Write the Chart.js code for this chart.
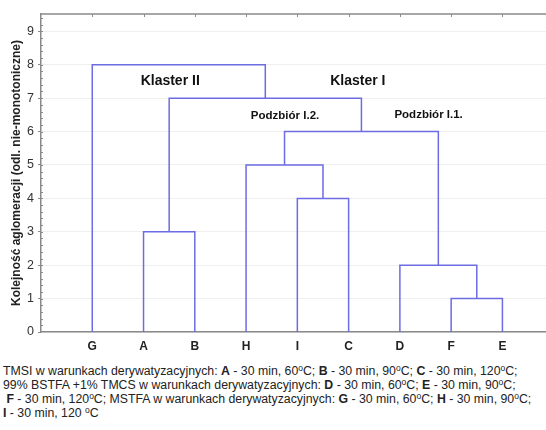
<!DOCTYPE html>
<html>
<head>
    <meta charset="UTF-8">
    <title>Dendrogram</title>
    <script src="https://cdn.jsdelivr.net/npm/chart.js"></script>
    <style>
        body { margin: 0; background: #fff; }
        #wrap { width: 546px; height: 356px; position: relative; }
        #caption {
            margin: 8px 0 0 3px;
            font: 12.3px "Liberation Sans", Arial, sans-serif;
            line-height: 14px;
            color: #222;
            white-space: pre;
        }
        #caption sup { font-size: 8.5px; line-height: 0; vertical-align: 4px; }
    </style>
</head>
<body>
<div id="wrap"><canvas id="chart"></canvas></div>
<div id="caption">TMSI w warunkach derywatyzacyjnych: <b>A</b> - 30 min, 60<sup>o</sup>C; <b>B</b> - 30 min, 90<sup>o</sup>C; <b>C</b> - 30 min, 120<sup>o</sup>C;
99% BSTFA +1% TMCS w warunkach derywatyzacyjnych: <b>D</b> - 30 min, 60<sup>o</sup>C; <b>E</b> - 30 min, 90<sup>o</sup>C;
 <b>F</b> - 30 min, 120<sup>o</sup>C; MSTFA w warunkach derywatyzacyjnych: <b>G</b> - 30 min, 60<sup>o</sup>C; <b>H</b> - 30 min, 90<sup>o</sup>C;
<b>I</b> - 30 min, 120 <sup>o</sup>C</div>

<script>
    // liscie dendrogramu (kolejnosc na osi X)
    var leaves = ['G', 'A', 'B', 'H', 'I', 'C', 'D', 'F', 'E'];

    // polaczenia: wezly 0..8 to liscie, kolejne polaczenia dostaja numery 9, 10, ...
    var mergeLeft = [1, 4, 3, 7, 6, 11, 9, 0];
    var mergeRight = [2, 5, 10, 8, 12, 13, 14, 15];
    var mergeHeight = [3, 4, 5, 1, 2, 6, 7, 8];

    var yTicks = [0, 1, 2, 3, 4, 5, 6, 7, 8, 9];

    // opisy na wykresie
    var notes = [
        { text: 'Klaster II', x: 2.52, y: 7.5, size: 14 },
        { text: 'Klaster I', x: 6.18, y: 7.5, size: 14 },
        { text: 'Podzbiór I.2.', x: 4.76, y: 6.47, size: 11.5 },
        { text: 'Podzbiór I.1.', x: 7.56, y: 6.5, size: 11.5 }
    ];

    var lineColor = '#6d6ce2';
    var axisColor = '#8a8a8a';
    var font = '"Liberation Sans", Arial, sans-serif';

    // pozycje i wysokosci wezlow
    var nodeX = [];
    var nodeH = [];
    for (var i = 0; i < leaves.length; i++) {
        nodeX.push(i + 1);
        nodeH.push(0);
    }
    var datasets = [];
    for (var j = 0; j < mergeHeight.length; j++) {
        var l = mergeLeft[j], r = mergeRight[j], h = mergeHeight[j];
        datasets.push({
            data: [
                { x: nodeX[l], y: nodeH[l] },
                { x: nodeX[l], y: h },
                { x: nodeX[r], y: h },
                { x: nodeX[r], y: nodeH[r] }
            ],
            showLine: true,
            borderColor: lineColor,
            borderWidth: 1.5,
            pointRadius: 0,
            tension: 0
        });
        nodeX.push((nodeX[l] + nodeX[r]) / 2);
        nodeH.push(h);
    }

    // ramka u gory, znaczniki na gornej krawedzi, male znaczniki na osi Y, opisy
    var extras = {
        id: 'extras',
        afterDraw: function (chart) {
            var ctx = chart.ctx;
            var a = chart.chartArea;
            var xs = chart.scales.x, ys = chart.scales.y;
            ctx.save();
            ctx.strokeStyle = axisColor;
            ctx.lineWidth = 1.5;
            ctx.beginPath();
            ctx.moveTo(a.left, a.top);
            ctx.lineTo(a.right, a.top);
            ctx.stroke();
            ctx.lineWidth = 1;
            ctx.beginPath();
            for (var i = 0; i < leaves.length; i++) {
                var px = Math.round(xs.getPixelForValue(i + 1)) + 0.5;
                ctx.moveTo(px, a.top);
                ctx.lineTo(px, a.top + 3);
            }
            for (var v = 0.2; v < 9.5; v += 0.2) {
                var py = Math.round(ys.getPixelForValue(v)) + 0.5;
                ctx.moveTo(a.left, py);
                ctx.lineTo(a.left + 2, py);
            }
            ctx.stroke();

            ctx.fillStyle = '#111';
            ctx.textAlign = 'center';
            ctx.textBaseline = 'middle';
            notes.forEach(function (n) {
                ctx.font = 'bold ' + n.size + 'px ' + font;
                ctx.fillText(n.text, xs.getPixelForValue(n.x), ys.getPixelForValue(n.y));
            });
            ctx.restore();
        }
    };

    var ctx = document.getElementById('chart').getContext('2d');
    var chart = new Chart(ctx, {
        type: 'scatter',
        data: { datasets: datasets },
        options: {
            responsive: true,
            maintainAspectRatio: false,
            animation: false,
            layout: { padding: { top: 14, right: 0, left: 0, bottom: 0 } },
            plugins: {
                legend: { display: false },
                tooltip: { enabled: false }
            },
            scales: {
                x: {
                    type: 'linear',
                    min: 0,
                    max: 9.85,
                    afterBuildTicks: function (scale) {
                        scale.ticks = leaves.map(function (_, i) { return { value: i + 1 }; });
                    },
                    afterFit: function (scale) { scale.height = 24; },
                    grid: { drawOnChartArea: false, drawTicks: false },
                    border: { color: axisColor, width: 1.5 },
                    ticks: {
                        padding: 7,
                        color: '#222',
                        font: { family: font, size: 12, weight: 'bold' },
                        callback: function (value) { return leaves[value - 1]; }
                    }
                },
                y: {
                    min: 0,
                    max: 9.52,
                    afterBuildTicks: function (scale) {
                        scale.ticks = yTicks.map(function (v) { return { value: v }; });
                    },
                    afterFit: function (scale) { scale.width = 41; },
                    grid: { color: '#efefef', tickLength: 3, tickColor: axisColor },
                    border: { color: axisColor, width: 1.5 },
                    ticks: {
                        padding: 4,
                        color: '#333',
                        font: { family: font, size: 12.5 }
                    },
                    title: {
                        display: true,
                        text: 'Kolejność aglomeracji (odl. nie-monotoniczne)',
                        color: '#222',
                        font: { family: font, size: 12, weight: 'bold' },
                        padding: { top: 9, bottom: 0 }
                    }
                }
            }
        },
        plugins: [extras]
    });
</script>
</body>
</html>
